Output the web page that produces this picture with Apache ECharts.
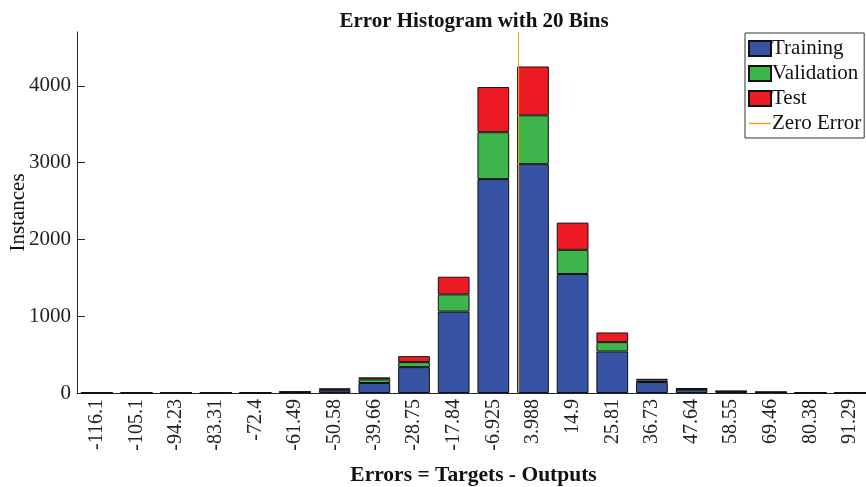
<!DOCTYPE html>
<html>
<head>
<meta charset="utf-8">
<script src="https://cdn.jsdelivr.net/npm/echarts@6/dist/echarts.min.js"></script>
<style>html,body{margin:0;padding:0;background:#fff}#c{width:866px;height:487px}</style>
</head>
<body>
<div id="c"></div>
<script>
const binLabels = ['-116.1','-105.1','-94.23','-83.31','-72.4','-61.49','-50.58','-39.66','-28.75','-17.84','-6.925','3.988','14.9','25.81','36.73','47.64','58.55','69.46','80.38','91.29'];
const training   = [0,0,0,0,3,10,35,130,337,1060,2785,2979,1549,541,143,45,18,9,2,0];
const validation = [0,0,0,0,1,3,12,48,65,224,610,636,315,121,20,8,4,2,0,0];
const test       = [0,0,0,0,1,3,12,26,78,230,588,636,354,126,22,8,4,2,0,0];
const zeroError = 0;
const yTicks = [0,1000,2000,3000,4000];
const yMax = 4700;

const FONT = '"Liberation Serif", "Times New Roman", serif';
const axisColor = '#262626';
const ORANGE = '#F7A21E';
const firstC = parseFloat(binLabels[0]), lastC = parseFloat(binLabels[binLabels.length-1]);
const step = (lastC - firstC) / (binLabels.length - 1);

const chart = echarts.init(document.getElementById('c'));
const barStyle = (c) => ({color: c, borderColor: '#111', borderWidth: 1});
chart.setOption({
  animation: false,
  backgroundColor: '#fff',
  title: {
    text: 'Error Histogram with 20 Bins',
    left: 469, top: 6, textAlign: 'center',
    textStyle: {fontFamily: FONT, fontSize: 21, fontWeight: 'bold', color: '#111'}
  },
  legend: {
    orient: 'vertical', left: 745, top: 33,
    backgroundColor: '#fff', borderColor: '#333', borderWidth: 1,
    padding: [5, 3, 4, 3], itemGap: 4, itemWidth: 22, itemHeight: 15,
    textStyle: {fontFamily: FONT, fontSize: 21, color: '#111', padding: [0,0,0,-4]},
    data: [
      {name: 'Training', icon: 'rect'},
      {name: 'Validation', icon: 'rect'},
      {name: 'Test', icon: 'rect'},
      {name: 'Zero Error', icon: 'path://M0,0 L22,0 L22,0.01 Z M0,6.8 L22,6.8 L22,8.3 L0,8.3 Z M0,15 L22,15 L22,15.01 Z',
       itemStyle: {color: ORANGE, borderWidth: 0}}
    ]
  },
  grid: {left: 77, top: 32, right: -4, bottom: 94, containLabel: false, outerBoundsMode: 'none'},
  xAxis: [{
    type: 'category', data: binLabels,
    axisLine: {onZero: false, lineStyle: {color: axisColor, width: 1}},
    axisTick: {inside: true, alignWithLabel: true, length: 8, lineStyle: {color: axisColor}},
    axisLabel: {rotate: 90, fontFamily: FONT, fontSize: 20, color: '#222', margin: 6, interval: 0},
    name: 'Errors = Targets - Outputs', nameLocation: 'middle', nameGap: 71, nameMoveOverlap: false,
    nameTextStyle: {fontFamily: FONT, fontSize: 21.5, fontWeight: 'bold', color: '#111'}
  }, {
    type: 'value', show: false,
    min: firstC - step/2, max: lastC + step/2
  }],
  yAxis: {
    type: 'value', min: 0, max: yMax,
    axisLine: {show: true, onZero: false, lineStyle: {color: axisColor, width: 1}},
    axisTick: {show: true, inside: true, length: 8, customValues: yTicks, lineStyle: {color: axisColor}},
    axisLabel: {fontFamily: FONT, fontSize: 21, color: '#222', margin: 6, customValues: yTicks,
                formatter: (v) => String(v)},
    splitLine: {show: false},
    name: 'Instances', nameLocation: 'middle', nameGap: 48, nameMoveOverlap: false,
    nameTextStyle: {fontFamily: FONT, fontSize: 21, color: '#111'}
  },
  series: [
    {name: 'Training', type: 'bar', stack: 'a', barWidth: '80%', data: training, itemStyle: barStyle('#3653A4')},
    {name: 'Validation', type: 'bar', stack: 'a', barWidth: '80%', data: validation, itemStyle: barStyle('#3DB54A')},
    {name: 'Test', type: 'bar', stack: 'a', barWidth: '80%', data: test, itemStyle: barStyle('#ED1C24')},
    {name: 'Zero Error', type: 'line', xAxisIndex: 1, symbol: 'none', z: 5,
     lineStyle: {color: ORANGE, width: 1}, itemStyle: {color: ORANGE},
     data: [[zeroError, 0], [zeroError, yMax]]}
  ]
});
</script>
</body>
</html>
